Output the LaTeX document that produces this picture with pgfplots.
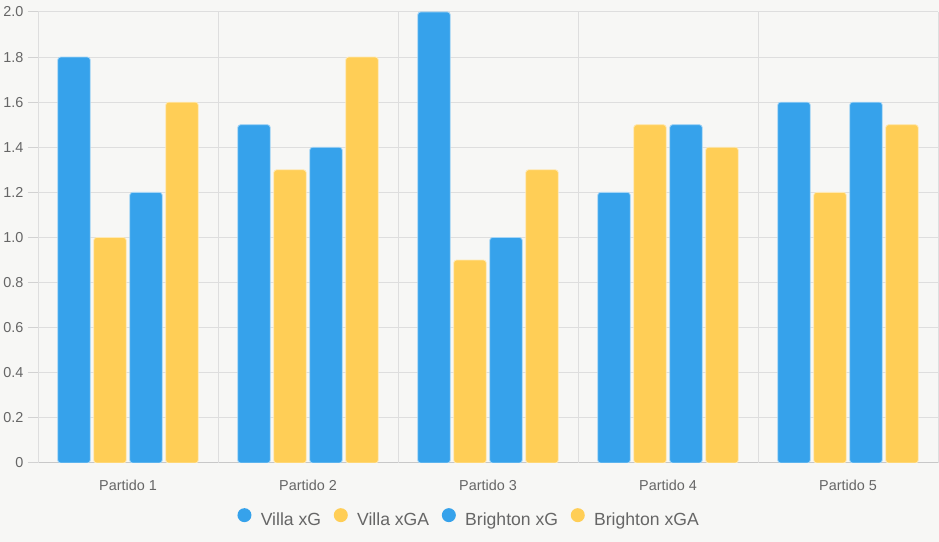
\documentclass[border=0pt]{standalone}
\usepackage{pgfplots}
\pgfplotsset{compat=1.18}
\usepackage{fontspec}
\setmainfont{Liberation Sans}

\definecolor{bg}{HTML}{F7F7F5}
\definecolor{blueS}{HTML}{36A2EB}
\definecolor{yellowS}{HTML}{FFCE56}
\definecolor{gridc}{HTML}{DEDEDE}
\definecolor{tickc}{HTML}{D2D2D2}
\definecolor{axisc}{HTML}{C8C8C8}
\definecolor{txt}{HTML}{666666}

\begin{document}
\begin{tikzpicture}
% page area (939 x 542 px at 0.75pt per px)
\useasboundingbox (0,0) rectangle (704.25pt,406.5pt);
\fill[bg] (0,0) rectangle (704.25pt,406.5pt);
\begin{axis}[
  at={(28.5pt,59.25pt)}, anchor=south west,
  scale only axis, width=675pt, height=338.25pt,
  xmin=-0.5, xmax=4.5, ymin=0, ymax=2,
  ybar, bar width=0.18,
  axis lines*=left,
  axis line style={axisc, line width=0.75pt, -},
  tick align=outside,
  major tick length=7.5pt,
  xtick={0,1,2,3,4},
  xticklabels={Partido 1,Partido 2,Partido 3,Partido 4,Partido 5},
  x tick style={draw=none},
  x tick label style={yshift=-2pt},
  extra x ticks={-0.5,0.5,1.5,2.5,3.5,4.5},
  extra x tick labels={},
  extra x tick style={grid=major, major tick length=5.25pt, tick style={draw=tickc, line width=0.75pt}},
  ytick={0,0.2,...,2.01},
  yticklabels={0,0.2,0.4,0.6,0.8,1.0,1.2,1.4,1.6,1.8,2.0},
  y tick style={draw=tickc, line width=0.75pt},
  ymajorgrids,
  grid style={gridc, line width=0.75pt},
  tick label style={font=\fontsize{10.8}{12}\selectfont, text=txt},
  legend columns=4,
  legend style={at={(0.4794,-0.1242)}, anchor=center, draw=none, fill=none,
    font=\fontsize{13.2}{15}\selectfont, text=txt,
    /tikz/every odd column/.append style={column sep=5pt},
    /tikz/every even column/.append style={column sep=7.5pt}},
  legend image code/.code={\fill[#1, draw=none] (5.25pt,0.35em) circle (5.25pt);},
]
\addplot[fill=blueS, draw=blueS!45!white, line width=0.6pt, rounded corners=2pt, bar shift=-0.3]
  coordinates {(0,1.8) (1,1.5) (2,2.0) (3,1.2) (4,1.6)};
\addplot[fill=yellowS, draw=yellowS!45!white, line width=0.6pt, rounded corners=2pt, bar shift=-0.1]
  coordinates {(0,1.0) (1,1.3) (2,0.9) (3,1.5) (4,1.2)};
\addplot[fill=blueS, draw=blueS!45!white, line width=0.6pt, rounded corners=2pt, bar shift=0.1]
  coordinates {(0,1.2) (1,1.4) (2,1.0) (3,1.5) (4,1.6)};
\addplot[fill=yellowS, draw=yellowS!45!white, line width=0.6pt, rounded corners=2pt, bar shift=0.3]
  coordinates {(0,1.6) (1,1.8) (2,1.3) (3,1.4) (4,1.5)};
\legend{Villa xG, Villa xGA, Brighton xG, Brighton xGA}
\end{axis}
\end{tikzpicture}
\end{document}
